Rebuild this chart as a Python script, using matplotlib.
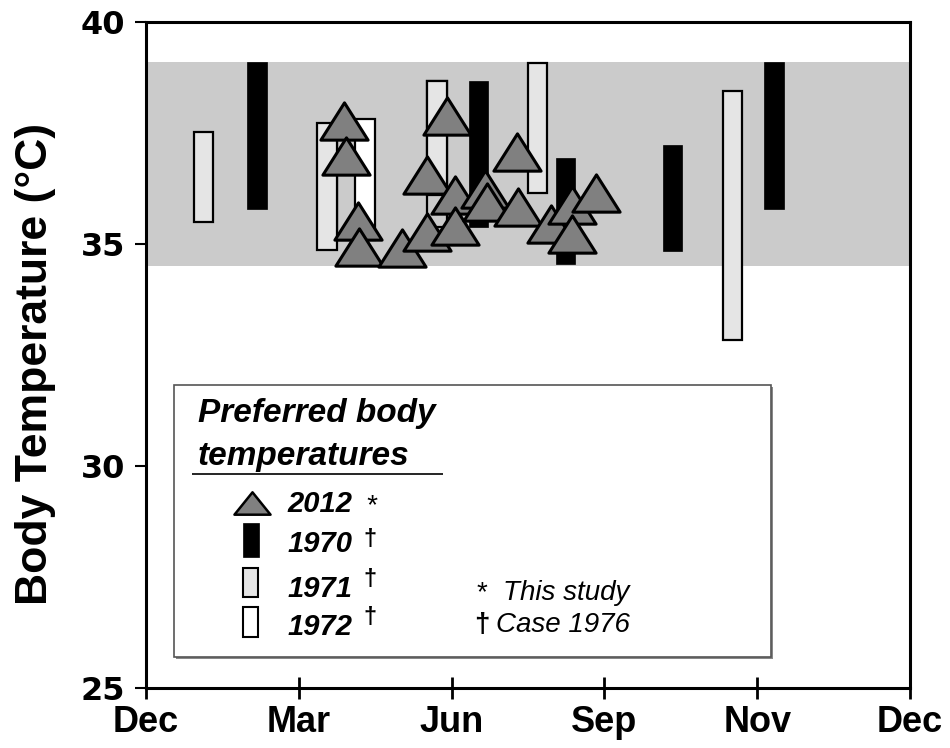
import numpy as np
import matplotlib.pyplot as plt
from matplotlib.path import Path
from matplotlib.patches import Rectangle

# month axis runs Dec..Dec as 0..15, one tick every 3 units
month_ticks = [0, 3, 6, 9, 12, 15]
month_labels = ['Dec', 'Mar', 'Jun', 'Sep', 'Nov', 'Dec']
temp_ticks = [25, 30, 35, 40]

# preferred range shaded across the whole year
pref_low, pref_high = 34.5, 39.1

# 2012 measurements (this study)
x_2012 = [3.89, 3.93, 4.16, 4.18, 5.03, 5.91, 5.52, 6.07, 5.52, 6.07,
          6.66, 6.70, 7.28, 7.30, 7.95, 8.36, 8.84, 8.36]
t_2012 = [37.77, 36.98, 35.52, 34.93, 34.91, 37.88, 36.55, 36.10, 35.27, 35.41,
          36.24, 35.95, 37.07, 35.83, 35.45, 35.88, 36.15, 35.23]

# Case 1976 ranges (low / high per sampling date)
x_1970 = [2.18, 6.53, 8.24, 10.34, 12.33]
lo_1970 = [35.79, 35.38, 34.55, 34.84, 35.79]
hi_1970 = [39.10, 38.67, 36.94, 37.23, 39.10]

x_1971 = [1.13, 3.55, 5.71, 7.68, 11.51]
lo_1971 = [35.50, 34.86, 36.10, 36.15, 32.84]
hi_1971 = [37.52, 37.73, 38.67, 39.08, 38.45]

x_1972 = [4.30]
lo_1972 = [35.09]
hi_1972 = [37.82]

# outlined ranges without fill
x_open = [3.93, 5.71]
lo_open = [35.10, 35.38]
hi_open = [37.80, 38.67]

band_grey = '#cbcbcb'
light_grey = '#e5e5e5'
tri_grey = '#808080'
bar_w = 0.38

plt.rcParams['font.family'] = ['Liberation Sans', 'DejaVu Sans']

fig = plt.figure(figsize=(9.5, 7.48), dpi=100)
ax = fig.add_axes([0.1537, 0.0802, 0.8042, 0.8904])

ax.axhspan(pref_low, pref_high, color=band_grey, zorder=0, lw=0)


def ranges(x, lo, hi, face, edge, lw):
    lo = np.array(lo)
    hi = np.array(hi)
    ax.bar(x, hi - lo, bottom=lo, width=bar_w, color=face,
           edgecolor=edge, linewidth=lw, zorder=2)


ranges(x_open, lo_open, hi_open, 'none', 'black', 1.6)
ranges(x_1970, lo_1970, hi_1970, 'black', 'black', 0.5)
ranges(x_1971, lo_1971, hi_1971, light_grey, 'black', 1.6)
ranges(x_1972, lo_1972, hi_1972, 'white', 'black', 1.6)

# wide triangle marker
tri = Path([(0, 0.79), (-1, -0.79), (1, -0.79), (0, 0.79)],
           [Path.MOVETO, Path.LINETO, Path.LINETO, Path.CLOSEPOLY])
ax.plot(x_2012, t_2012, ls='none', marker=tri, ms=34, mfc=tri_grey,
        mec='black', mew=2.2, zorder=3)

ax.set_xlim(0, 15)
ax.set_ylim(25, 40)
ax.set_xticks(month_ticks)
ax.set_xticklabels(month_labels, fontweight='bold', fontsize=26)
ax.set_yticks(temp_ticks)
ax.set_yticklabels([str(t) for t in temp_ticks], family='DejaVu Sans',
                   fontweight='bold', fontsize=23)
ax.tick_params(axis='x', direction='inout', length=16, width=2, pad=4)
ax.tick_params(axis='y', direction='out', length=8, width=1.5, pad=7)
for s in ax.spines.values():
    s.set_linewidth(2.2)

fig.text(0.037, 0.513, 'Body Temperature (\u00b0C)', rotation=90,
         ha='center', va='center', fontsize=32, fontweight='bold')

# legend panel
tr = ax.transAxes
ax.add_patch(Rectangle((0.0391, 0.0435), 0.7814, 0.4084, transform=tr,
                       facecolor='#888888', edgecolor='none', zorder=4))
ax.add_patch(Rectangle((0.0366, 0.0465), 0.7814, 0.4084, transform=tr,
                       facecolor='white', edgecolor='#555555', lw=1.2, zorder=5))

ax.text(0.0681, 0.3994, 'Preferred body', transform=tr, fontsize=24,
        fontweight='bold', style='italic', va='baseline', zorder=6)
ax.text(0.0681, 0.3348, 'temperatures', transform=tr, fontsize=24,
        fontweight='bold', style='italic', va='baseline', zorder=6)
ax.plot([0.0602, 0.3887], [0.3213, 0.3213], transform=tr, color='black',
        lw=1.2, zorder=6, solid_capstyle='butt')

leg_tri = Path([(0, 0.62), (-1, -0.62), (1, -0.62), (0, 0.62)],
               [Path.MOVETO, Path.LINETO, Path.LINETO, Path.CLOSEPOLY])
ax.plot([0.1387], [0.2778], transform=tr, ls='none', marker=leg_tri, ms=26,
        mfc=tri_grey, mec='black', mew=1.8, zorder=6, clip_on=False)
ax.add_patch(Rectangle((0.127, 0.1967), 0.0209, 0.051, transform=tr,
                       facecolor='black', edgecolor='black', lw=0.5, zorder=6))
ax.add_patch(Rectangle((0.127, 0.1366), 0.0196, 0.0436, transform=tr,
                       facecolor=light_grey, edgecolor='black', lw=1.5, zorder=6))
ax.add_patch(Rectangle((0.127, 0.0766), 0.0196, 0.045, transform=tr,
                       facecolor='white', edgecolor='black', lw=1.5, zorder=6))

entry_y = [0.2643, 0.2042, 0.1366, 0.0796]
entry_txt = ['2012', '1970', '1971', '1972']
for yy, lab in zip(entry_y, entry_txt):
    ax.text(0.1846, yy, lab, transform=tr, fontsize=21, fontweight='bold',
            style='italic', va='baseline', zorder=6)
ax.text(0.2866, 0.2928, '*', transform=tr, fontsize=20, style='italic',
        va='top', zorder=6)
for yy in [0.2402, 0.1802, 0.1231]:
    ax.text(0.2850, yy, '\u2020', transform=tr, fontsize=17, fontweight='bold',
            va='top', zorder=6)

ax.text(0.432, 0.1321, '*', transform=tr, fontsize=20, va='baseline', zorder=6)
ax.text(0.4673, 0.1321, 'This study', transform=tr, fontsize=20, style='italic',
        va='baseline', zorder=6)
ax.text(0.429, 0.0841, '\u2020', transform=tr, fontsize=20, fontweight='bold',
        va='baseline', zorder=6)
ax.text(0.4575, 0.0841, 'Case 1976', transform=tr, fontsize=20, style='italic',
        va='baseline', zorder=6)

fig.savefig('out.png', dpi=100)
